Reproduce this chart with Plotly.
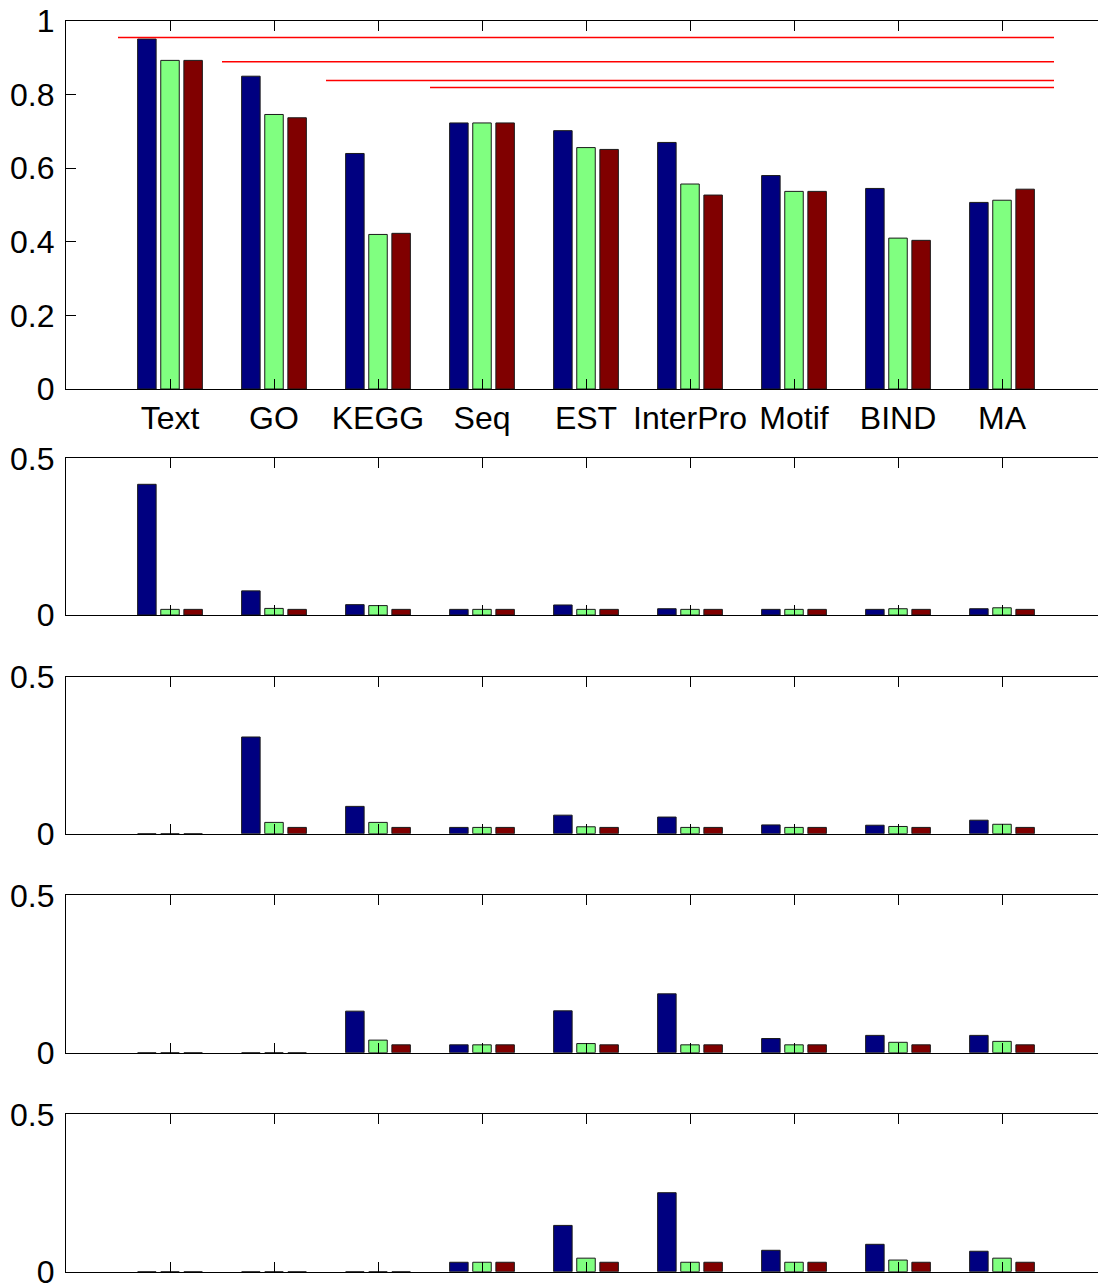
import plotly.graph_objects as go

# ---------------- data ----------------
categories = ["Text", "GO", "KEGG", "Seq", "EST", "InterPro", "Motif", "BIND", "MA"]
xpos = [1, 2, 3, 4, 5, 6, 7, 8, 9]

# panel 1
p1_blue = [0.951, 0.850, 0.640, 0.723, 0.702, 0.670, 0.580, 0.545, 0.507]
p1_green = [0.893, 0.746, 0.420, 0.723, 0.656, 0.557, 0.537, 0.410, 0.513]
p1_red = [0.893, 0.737, 0.423, 0.723, 0.651, 0.527, 0.537, 0.404, 0.543]

# panel 2
p2_blue = [0.417, 0.077, 0.033, 0.018, 0.032, 0.020, 0.018, 0.018, 0.020]
p2_green = [0.018, 0.021, 0.030, 0.018, 0.018, 0.018, 0.018, 0.020, 0.023]
p2_red = [0.018, 0.018, 0.018, 0.018, 0.018, 0.018, 0.018, 0.018, 0.018]

# panel 3
p3_blue = [0.0, 0.308, 0.087, 0.020, 0.059, 0.053, 0.028, 0.027, 0.043]
p3_green = [0.0, 0.036, 0.036, 0.020, 0.022, 0.020, 0.020, 0.023, 0.030]
p3_red = [0.0, 0.020, 0.020, 0.020, 0.020, 0.020, 0.020, 0.020, 0.020]

# panel 4
p4_blue = [0.0, 0.0, 0.132, 0.025, 0.133, 0.187, 0.045, 0.055, 0.055]
p4_green = [0.0, 0.0, 0.040, 0.025, 0.029, 0.025, 0.025, 0.033, 0.036]
p4_red = [0.0, 0.0, 0.025, 0.025, 0.025, 0.025, 0.025, 0.025, 0.025]

# panel 5
p5_blue = [0.0, 0.0, 0.0, 0.030, 0.147, 0.251, 0.068, 0.087, 0.065]
p5_green = [0.0, 0.0, 0.0, 0.030, 0.043, 0.030, 0.030, 0.037, 0.043]
p5_red = [0.0, 0.0, 0.0, 0.030, 0.030, 0.030, 0.030, 0.030, 0.030]

# red reference lines in panel 1
line_levels = [0.955, 0.889, 0.838, 0.819]
line_starts = [0.5, 1.5, 2.5, 3.5]
line_end = 9.5

p1_ticks = [0, 0.2, 0.4, 0.6, 0.8, 1]
p1_ticktext = ["0", "0.2", "0.4", "0.6", "0.8", "1"]
pn_ticks = [0, 0.5]
pn_ticktext = ["0", "0.5"]

# ---------------- figure ----------------
W, H = 1098, 1284
BLUE, GREEN, RED = "#000080", "#80FF80", "#800000"
FONT = "Liberation Sans, Arial, Helvetica, sans-serif"

panels = [
    (p1_blue, p1_green, p1_red),
    (p2_blue, p2_green, p2_red),
    (p3_blue, p3_green, p3_red),
    (p4_blue, p4_green, p4_red),
    (p5_blue, p5_green, p5_red),
]
# pixel extents (top, bottom) of each panel
px_extents = [(21, 389), (458.3, 615), (676.7, 833.7), (895.3, 1052.7), (1114.3, 1271.7)]

fig = go.Figure()
for i, (b, g, r) in enumerate(panels):
    ax = "" if i == 0 else str(i + 1)
    for vals, col in ((b, BLUE), (g, GREEN), (r, RED)):
        fig.add_trace(go.Bar(
            x=xpos, y=vals, xaxis="x" + ax, yaxis="y" + ax,
            marker=dict(color=col, line=dict(color="#1a1a1a", width=1)),
            showlegend=False, hoverinfo="skip",
        ))

for lvl, st in zip(line_levels, line_starts):
    fig.add_trace(go.Scatter(
        x=[st, line_end], y=[lvl, lvl], mode="lines",
        line=dict(color="#FF0000", width=1.5),
        xaxis="x", yaxis="y", showlegend=False, hoverinfo="skip",
    ))

L = 66
xr = [0, (W - L) / 104.0]
layout = dict(
    width=W, height=H,
    margin=dict(l=L, r=0, t=0, b=0, autoexpand=False),
    paper_bgcolor="white", plot_bgcolor="white",
    barmode="group", bargap=0.333, bargroupgap=0.2,
    font=dict(family=FONT, size=32, color="black"),
)
for i, (top, bot) in enumerate(px_extents):
    ax = "" if i == 0 else str(i + 1)
    dom = [1 - bot / H, 1 - top / H]
    layout["xaxis" + ax] = dict(
        domain=[0, 1], range=xr, anchor="y" + ax, automargin=False,
        tickmode="array", tickvals=xpos,
        ticktext=categories if i == 0 else [""] * 9,
        showticklabels=(i == 0),
        ticks="inside", ticklen=10, tickwidth=1, tickcolor="black",
        showline=True, linecolor="black", linewidth=1.3, mirror="allticks",
        showgrid=False, zeroline=False,
        tickfont=dict(family=FONT, size=32, color="black"),
    )
    layout["yaxis" + ax] = dict(
        domain=dom, anchor="x" + ax, automargin=False,
        range=[0, 1] if i == 0 else [0, 0.5],
        tickmode="array",
        tickvals=p1_ticks if i == 0 else pn_ticks,
        ticktext=p1_ticktext if i == 0 else pn_ticktext,
        ticks="inside", ticklen=10, tickwidth=1, tickcolor="black",
        showline=True, linecolor="black", linewidth=1.3, mirror=False,
        showgrid=False, zeroline=False, ticklabelstandoff=4,
        ticklabeloverflow="allow",
        tickfont=dict(family=FONT, size=32, color="black"),
    )
fig.update_layout(**layout)
fig.write_html(
    "out.html",
    config={"displayModeBar": False},
    post_script="document.body.style.margin='0';document.body.style.overflow='hidden';",
)
